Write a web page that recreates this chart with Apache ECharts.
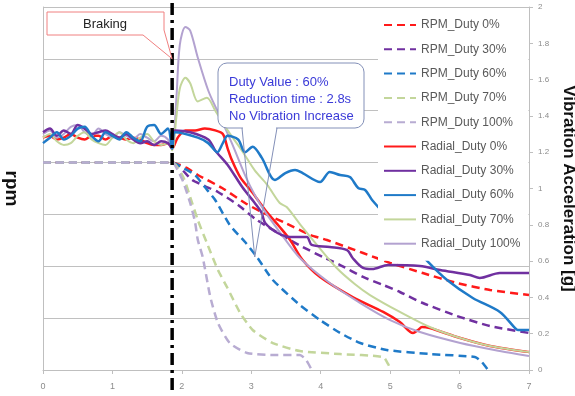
<!DOCTYPE html>
<html>
<head>
<meta charset="utf-8">
<script src="https://cdn.jsdelivr.net/npm/echarts@6/dist/echarts.min.js"></script>
<style>
html, body { margin: 0; padding: 0; background: #fff; }
#chart { width: 575px; height: 396px; }
</style>
</head>
<body>
<div id="chart"></div>
<script>
// ──── data ────
const brakeT = 1.86;
const rpmStart = 2000;

// radial vibration before braking (g), sampled at preTime
const preTime = [0, 0.1, 0.2, 0.3, 0.4, 0.5, 0.6, 0.7, 0.8, 0.9, 1.0, 1.1, 1.2, 1.3, 1.4, 1.5, 1.6, 1.7, 1.8];
const radial0Pre = [1.28, 1.29, 1.27, 1.28, 1.30, 1.28, 1.27, 1.29, 1.29, 1.27, 1.29, 1.28, 1.27, 1.28, 1.27, 1.25, 1.24, 1.24, 1.25];
const radial30Pre = [1.31, 1.33, 1.29, 1.32, 1.30, 1.35, 1.33, 1.30, 1.31, 1.32, 1.30, 1.28, 1.30, 1.27, 1.25, 1.26, 1.24, 1.26, 1.25];
const radial60Pre = [1.25, 1.28, 1.31, 1.27, 1.29, 1.33, 1.34, 1.29, 1.26, 1.31, 1.29, 1.27, 1.31, 1.28, 1.26, 1.34, 1.35, 1.30, 1.33];
const radial70Pre = [1.28, 1.30, 1.26, 1.24, 1.25, 1.29, 1.31, 1.27, 1.25, 1.24, 1.28, 1.31, 1.27, 1.25, 1.28, 1.30, 1.26, 1.24, 1.25];
const radial100Pre = [1.30, 1.32, 1.28, 1.30, 1.34, 1.35, 1.31, 1.29, 1.33, 1.30, 1.28, 1.31, 1.29, 1.27, 1.30, 1.28, 1.26, 1.29, 1.27];

// radial vibration after braking [time s, g]
const radial0Post = [[1.86, 1.22], [1.94, 1.28], [2.05, 1.32], [2.19, 1.32], [2.33, 1.33], [2.48, 1.32], [2.59, 1.30], [2.66, 1.22], [2.72, 1.157], [2.84, 1.063], [3.01, 0.981], [3.20, 0.882], [3.41, 0.788], [3.56, 0.716], [3.74, 0.606], [3.99, 0.512], [4.46, 0.402], [4.90, 0.320], [5.14, 0.264], [5.33, 0.204], [5.40, 0.220], [5.46, 0.237], [5.57, 0.231], [6.01, 0.176], [6.44, 0.132], [7.0, 0.099]];
const radial30Post = [[1.86, 1.22], [1.90, 1.32], [2.12, 1.31], [2.38, 1.27], [2.48, 1.21], [2.66, 1.13], [2.87, 1.008], [3.05, 0.920], [3.15, 0.865], [3.20, 0.810], [3.38, 0.755], [3.56, 0.733], [3.80, 0.733], [3.87, 0.689], [4.13, 0.678], [4.38, 0.661], [4.46, 0.617], [4.61, 0.562], [4.74, 0.556], [4.97, 0.579], [5.43, 0.573], [5.72, 0.551], [6.15, 0.523], [6.29, 0.507], [6.58, 0.534], [7.0, 0.534]];
const radial60Post = [[1.86, 1.22], [1.90, 1.31], [2.23, 1.28], [2.38, 1.25], [2.51, 1.20], [2.59, 1.25], [2.66, 1.29], [2.81, 1.27], [2.91, 1.20], [3.02, 1.23], [3.15, 1.17], [3.34, 1.047], [3.49, 1.085], [3.63, 1.102], [3.74, 1.085], [3.99, 1.036], [4.13, 1.091], [4.28, 1.074], [4.42, 1.063], [4.54, 1.003], [4.64, 0.992], [4.74, 0.937], [5.00, 0.826], [5.29, 0.705], [5.55, 0.595], [5.82, 0.496], [6.19, 0.397], [6.58, 0.320], [6.80, 0.231], [6.84, 0.220], [7.0, 0.220]];
const radial70Post = [[1.86, 1.21], [1.92, 1.39], [1.97, 1.55], [2.05, 1.61], [2.12, 1.58], [2.23, 1.48], [2.36, 1.50], [2.48, 1.43], [2.66, 1.32], [2.88, 1.20], [3.05, 1.10], [3.23, 1.02], [3.41, 0.920], [3.51, 0.898], [3.70, 0.804], [3.96, 0.683], [4.23, 0.562], [4.49, 0.474], [4.71, 0.413], [5.14, 0.320], [5.57, 0.237], [6.01, 0.176], [6.44, 0.132], [7.0, 0.099]];
const radial100Post = [[1.86, 1.22], [1.92, 1.49], [1.97, 1.79], [2.05, 1.89], [2.12, 1.87], [2.23, 1.72], [2.38, 1.54], [2.52, 1.42], [2.72, 1.25], [2.91, 1.074], [3.05, 0.964], [3.20, 0.871], [3.41, 0.760], [3.70, 0.617], [4.13, 0.479], [4.57, 0.369], [5.00, 0.275], [5.43, 0.209], [6.01, 0.149], [6.58, 0.105], [7.0, 0.077]];

// rpm after braking [time s, rpm]
const rpm0 = [[1.86, 2000], [2.07, 1948], [2.23, 1880], [2.58, 1755], [2.91, 1610], [3.15, 1523], [3.49, 1417], [3.85, 1302], [4.09, 1253], [4.61, 1128], [5.00, 1032], [5.47, 935], [5.96, 839], [6.44, 771], [7.0, 723]];
const rpm30 = [[1.86, 2000], [2.15, 1832], [2.33, 1774], [2.52, 1716], [2.81, 1591], [3.08, 1446], [3.56, 1253], [3.74, 1186], [4.03, 1090], [4.28, 1012], [4.61, 897], [4.90, 820], [5.14, 752], [5.47, 646], [5.96, 521], [6.44, 424], [7.0, 357]];
const rpm60 = [[1.86, 2000], [2.02, 1948], [2.19, 1880], [2.33, 1764], [2.48, 1639], [2.69, 1398], [2.91, 1234], [3.08, 1090], [3.31, 868], [3.70, 627], [3.99, 482], [4.28, 357], [4.57, 260], [4.95, 193], [5.57, 154], [6.22, 125], [6.32, 77], [6.41, 0]];
const rpm70 = [[1.86, 2000], [2.02, 1861], [2.12, 1668], [2.23, 1446], [2.36, 1225], [2.52, 964], [2.65, 800], [2.84, 550], [3.02, 386], [3.31, 260], [3.70, 183], [4.28, 154], [4.90, 125], [4.97, 58], [5.01, 0]];
const rpm100 = [[1.86, 2000], [1.94, 1928], [2.02, 1813], [2.12, 1610], [2.19, 1427], [2.23, 1253], [2.30, 1090], [2.41, 704], [2.52, 453], [2.69, 260], [2.94, 164], [3.31, 145], [3.70, 145], [3.79, 96], [3.87, 0]];

const legendNames = ['RPM_Duty 0%', 'RPM_Duty 30%', 'RPM_Duty 60%', 'RPM_Duty 70%', 'RPM_Duty 100%',
    'Radial_Duty 0%', 'Radial_Duty 30%', 'Radial_Duty 60%', 'Radial_Duty 70%', 'Radial_Duty 100%'];
const noteLines = ['Duty Value : 60%', 'Reduction time : 2.8s', 'No Vibration Increase'];

// ──── helpers ────
const FONT = '"Liberation Sans", Arial, sans-serif';
const GRAY = '#bfbfbf';

function radial(pre, post) {
    return preTime.map((t, i) => [t, pre[i]]).concat(post);
}
function rpm(post) {
    return [[0, rpmStart]].concat(post);
}
function dashSeries(name, color, data) {
    return {
        name, type: 'line', yAxisIndex: 0, data: rpm(data),
        symbol: 'none', smooth: 0.2,
        lineStyle: { color, width: 2.5, type: [8, 5] },
        itemStyle: { color },
    };
}
function solidSeries(name, color, data, width) {
    return {
        name, type: 'line', yAxisIndex: 1, data,
        symbol: 'none', smooth: 0.3,
        lineStyle: { color, width: width || 2 },
        itemStyle: { color },
    };
}

const chart = echarts.init(document.getElementById('chart'), null, { renderer: 'canvas' });

chart.setOption({
    animation: false,
    backgroundColor: '#fff',
    grid: { left: 43, right: 46, top: 7, bottom: 26, containLabel: false, outerBoundsMode: 'none' },
    legend: {
        data: legendNames,
        orient: 'vertical',
        left: 378, top: 10,
        itemWidth: 32, itemHeight: 14, itemGap: 10.3,
        padding: [8, 8, 10, 5],
        backgroundColor: '#fff',
        itemStyle: { opacity: 0 },
        textStyle: { fontSize: 12, lineHeight: 14, color: '#595959', fontFamily: FONT },
    },
    xAxis: {
        type: 'value', min: 0, max: 7, interval: 1,
        axisLine: { lineStyle: { color: GRAY } },
        axisTick: { length: 4, lineStyle: { color: GRAY } },
        axisLabel: { fontSize: 9, color: '#8c8c8c', margin: 12, fontFamily: FONT },
        splitLine: { show: false },
    },
    yAxis: [{
        type: 'value', min: 0, max: 3500, interval: 500,
        name: 'rpm', nameLocation: 'middle', nameRotate: -90, nameGap: 22,
        nameTextStyle: { fontSize: 19, fontWeight: 'bold', color: '#111', fontFamily: FONT },
        axisLine: { show: true, lineStyle: { color: GRAY } },
        axisTick: { show: false },
        axisLabel: { show: false },
        splitLine: { lineStyle: { color: '#c0c0c0', width: 1 } },
    }, {
        type: 'value', min: 0, max: 2, interval: 0.2, position: 'right',
        name: 'Vibration Acceleration [g]', nameLocation: 'middle', nameRotate: -90, nameGap: 24,
        nameTextStyle: { fontSize: 17, fontWeight: 'bold', color: '#111', fontFamily: FONT },
        axisLine: { show: true, lineStyle: { color: GRAY } },
        axisTick: { show: true, length: 4, lineStyle: { color: GRAY } },
        axisLabel: { fontSize: 8, color: '#8c8c8c', margin: 9, fontFamily: FONT },
        splitLine: { show: false },
    }],
    series: [
        dashSeries('RPM_Duty 0%', '#ff1a1a', rpm0),
        dashSeries('RPM_Duty 30%', '#7030a0', rpm30),
        dashSeries('RPM_Duty 60%', '#1f7ac8', rpm60),
        dashSeries('RPM_Duty 70%', '#c3d69b', rpm70),
        dashSeries('RPM_Duty 100%', '#b8acd2', rpm100),
        solidSeries('Radial_Duty 0%', '#ff1a1a', radial(radial0Pre, radial0Post), 2.5),
        solidSeries('Radial_Duty 100%', '#b3a2d0', radial(radial100Pre, radial100Post), 2),
        solidSeries('Radial_Duty 70%', '#c3d69b', radial(radial70Pre, radial70Post), 2),
        solidSeries('Radial_Duty 30%', '#7030a0', radial(radial30Pre, radial30Post), 2.5),
        solidSeries('Radial_Duty 60%', '#1f7ac8', radial(radial60Pre, radial60Post), 2.5),
    ],
});

// ──── annotations: braking line + callouts ────
const toPx = (t, r) => chart.convertToPixel({ xAxisIndex: 0, yAxisIndex: 0 }, [t, r]);
const brakeX = toPx(brakeT, 3500)[0];
const plotTop = toPx(brakeT, 3500)[1];
const plotBottom = toPx(brakeT, 0)[1];
const brakeTip = toPx(brakeT, 3000);
const dutyTip = toPx(3.05, 1090);

chart.setOption({
    graphic: [
        {
            type: 'line', z: 100,
            shape: { x1: brakeX, y1: plotTop - 4, x2: brakeX, y2: plotBottom + 22 },
            style: { stroke: '#000', lineWidth: 3.5, lineDash: [12, 5, 3, 5] },
        },
        {
            type: 'polygon', z: 101,
            shape: { points: [[47, 12], [164, 12], [164, 30], brakeTip, [143, 35], [47, 35]] },
            style: { fill: '#fff', stroke: '#f08080', lineWidth: 1 },
        },
        {
            type: 'text', z: 102, x: 105, y: 24,
            style: { text: 'Braking', fill: '#222', font: '13px ' + FONT, textAlign: 'center', textVerticalAlign: 'middle', align: 'center', verticalAlign: 'middle' },
        },
        {
            type: 'rect', z: 101,
            shape: { x: 218, y: 63, width: 146, height: 65, r: 9 },
            style: { fill: '#fff', stroke: '#8390b8', lineWidth: 1 },
        },
        {
            type: 'line', z: 102,
            shape: { x1: 243, y1: 128, x2: 276, y2: 128 },
            style: { stroke: '#fff', lineWidth: 2 },
        },
        {
            type: 'polyline', z: 103,
            shape: { points: [[242, 128], dutyTip, [277, 128]] },
            style: { stroke: '#8390b8', lineWidth: 1, fill: null },
        },
    ].concat(noteLines.map((txt, i) => ({
        type: 'text', z: 104, x: 229, y: 82 + i * 17,
        style: { text: txt, fill: '#3a3ad8', font: '13px ' + FONT, textAlign: 'left', textVerticalAlign: 'middle', align: 'left', verticalAlign: 'middle' },
    }))),
});
</script>
</body>
</html>
